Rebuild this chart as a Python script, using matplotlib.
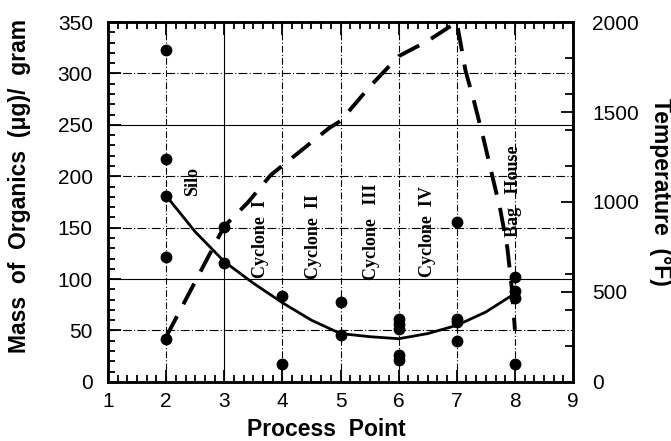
import numpy as np
import matplotlib
matplotlib.use("Agg")
from matplotlib import pyplot as plt
from matplotlib.ticker import MultipleLocator

plt.rcParams['font.family'] = ['Liberation Sans', 'DejaVu Sans']

# measured organics (ug/gram) at each process point
pt_x = [2, 2, 2, 2, 2, 3, 3, 4, 4, 5, 5, 6, 6, 6, 6, 6, 7, 7, 7, 7, 8, 8, 8, 8]
pt_y = [323, 217, 181, 121, 42, 151, 116, 84, 17, 78, 46, 61, 56, 51, 26, 21,
        156, 61, 58, 40, 102, 88, 82, 17]

# smooth fit through the organics data
fit_x = [2, 2.5, 3, 3.5, 4, 4.5, 5, 5.5, 6, 6.5, 7, 7.5, 8]
fit_y = [181, 146, 117, 96, 77, 60, 47, 44, 42, 47, 55, 68, 86]

# gas temperature (F), right axis
temp_x = [2, 3, 3.4, 3.8, 4.3, 4.8, 5, 5.5, 6, 6.5, 7, 7.15, 7.3, 7.45, 7.6,
          7.75, 7.87, 7.95, 8]
temp_y = [250, 865, 995, 1150, 1280, 1410, 1450, 1640, 1810, 1895, 2000, 1730,
          1555, 1365, 1160, 955, 745, 510, 290]

stages = ["Silo", "Cyclone  I", "Cyclone  II", "Cyclone   III", "Cyclone  IV",
          "Bag   House"]
stage_x = [2.46, 3.62, 4.53, 5.54, 6.49, 7.98]
stage_y = [195, 139, 141, 146, 146, 185]

fig = plt.figure(figsize=(6.71, 4.41), dpi=100)
ax = fig.add_axes([0.161, 0.134, 0.693, 0.816])

# grid, mixture of solid and dash-dot like the original
for x in range(2, 9):
    ls = '-' if x == 3 else (0, (6, 2, 1, 2))
    ax.axvline(x, color='black', lw=0.8, ls=ls, zorder=1)
for y in range(50, 350, 50):
    ls = '-' if y in (100, 250) else (0, (8, 2, 1, 2))
    ax.axhline(y, color='black', lw=0.8, ls=ls, zorder=1)

ax.plot(fit_x, fit_y, color='black', lw=2, zorder=3)
ax.plot(pt_x, pt_y, 'o', color='black', ms=7.5, zorder=4)

for s, x, y in zip(stages, stage_x, stage_y):
    ax.text(x, y, s, rotation=90, ha='center', va='center', fontsize=13,
            fontweight='bold', family=['Liberation Serif', 'DejaVu Serif'],
            zorder=5)

ax.set_xlim(1, 9)
ax.set_ylim(0, 350)
ax.xaxis.set_major_locator(MultipleLocator(1))
ax.xaxis.set_minor_locator(MultipleLocator(1 / 6))
ax.yaxis.set_major_locator(MultipleLocator(50))
ax.yaxis.set_minor_locator(MultipleLocator(10))
ax.tick_params(which='both', direction='in', top=True, right=False, width=1.3,
               labelsize=15)
ax.tick_params(which='major', length=9)
ax.tick_params(which='minor', length=5)
ax.tick_params(axis='x', pad=7.5)
ax.tick_params(axis='y', pad=11)
for sp in ax.spines.values():
    sp.set_linewidth(1.8)

ax.set_xlabel("Process  Point", fontsize=16.5, fontweight='bold', va='center')
ax.xaxis.set_label_coords(0.469, -0.133)
ax.set_ylabel("Mass  of  Organics  (\u03bcg)/  gram", fontsize=16.5,
              fontweight='bold', va='center')
ax.yaxis.set_label_coords(-0.19, 0.545)

ax2 = ax.twinx()
ax2.plot(temp_x, temp_y, color='black', lw=2.8, ls=(0, (6, 3.5)), zorder=3)
ax2.set_ylim(0, 2000)
ax2.yaxis.set_major_locator(MultipleLocator(500))
ax2.yaxis.set_minor_locator(MultipleLocator(200))
ax2.tick_params(which='both', direction='in', width=1.3, labelsize=15, pad=14)
ax2.tick_params(which='major', length=9)
ax2.tick_params(which='minor', length=6)
ax2.set_ylabel("Temperature  (\u00b0F)", fontsize=16.5, fontweight='bold',
               rotation=270, va='center')
ax2.yaxis.set_label_coords(1.189, 0.528)
for sp in ax2.spines.values():
    sp.set_linewidth(1.8)

fig.savefig("out.png", dpi=100)
